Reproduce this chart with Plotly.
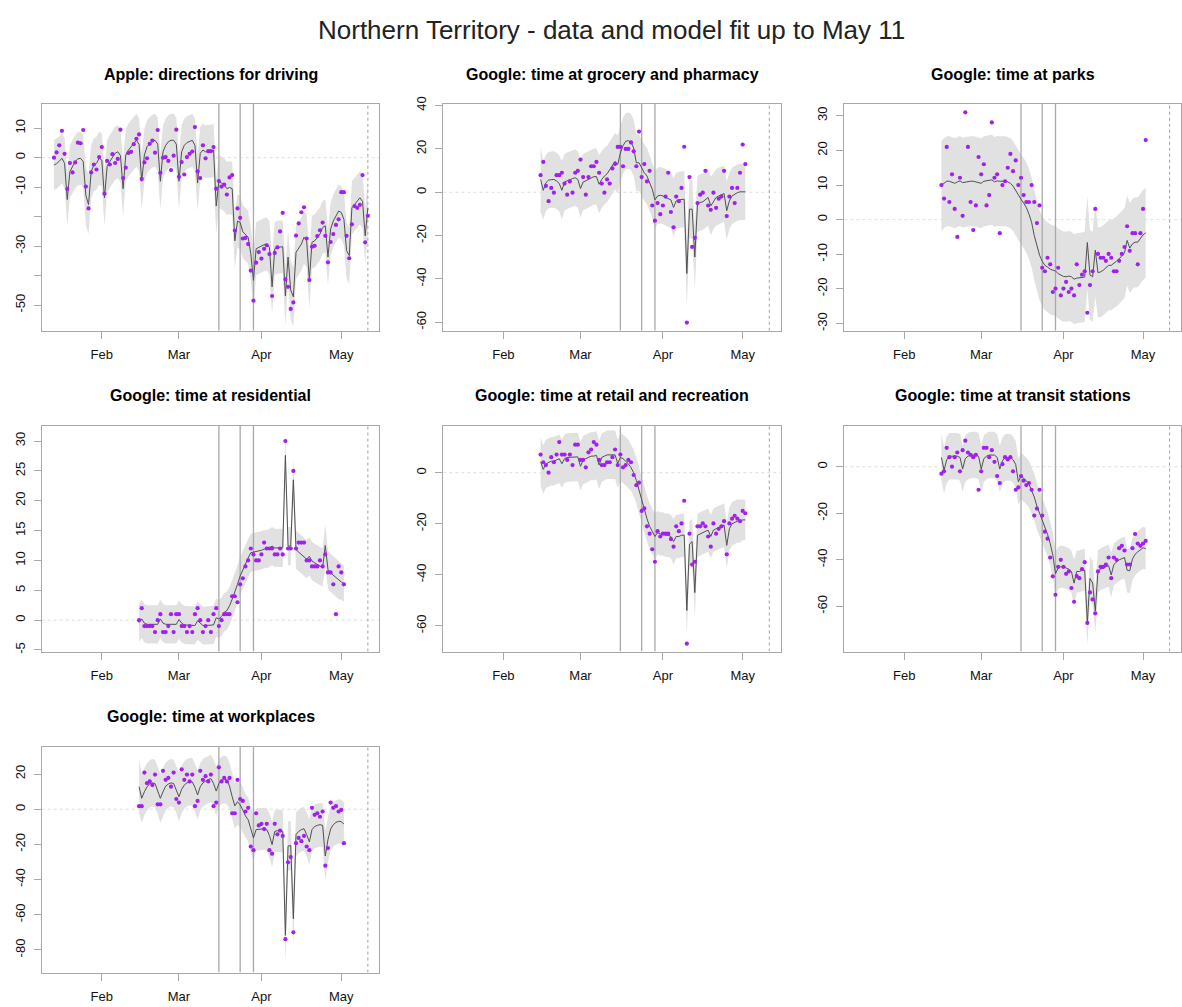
import plotly.graph_objects as go
import pandas as pd

W, H = 1182, 1007

# ---------------- data ----------------
apple_start = "2020-01-14"
google_start = "2020-02-15"

apple_obs = [0.0, 1.8, 4.2, 9.1, 1.3, -10.6, -1.8, -5.0, -1.6, 5.1,
             4.9, 9.4, -9.8, -17.2, -5.0, -2.3, -4.0, 0.2, 3.6, -12.2,
             -1.1, -2.3, 1.2, -1.8, -0.4, 9.5, -6.9, -3.4, 1.6, 2.0,
             4.6, 6.4, 7.9, -7.2, -1.6, -0.2, 4.7, 5.8, 1.7, 9.4,
             -5.1, 0.0, 0.2, -1.1, -4.2, 0.7, 9.5, -6.5, -1.5, -5.7,
             0.2, 1.3, 2.1, 10.4, -4.6, -6.9, 4.2, -0.2, 2.2, 2.2,
             3.6, -10.5, -7.9, -9.8, -9.1, -12.5, -6.7, -5.9, -24.7, -17.2,
             -20.4, -27.4, -27.2, -29.3, -38.3, -48.5, -35.6, -32.0, -34.2, -30.9,
             -29.7, -32.7, -46.9, -32.3, -30.4, -25.0, -18.7, -41.3, -43.8, -51.3,
             -49.1, -26.4, -22.3, -18.5, -16.8, -27.4, -41.5, -30.2, -29.9, -26.6,
             -24.6, -22.0, -26.5, -35.5, -28.6, -25.9, -22.8, -20.9, -11.7, -11.7,
             -26.5, -34.1, -22.6, -16.4, -17.0, -16.0, -5.9, -28.7, -19.7]
apple_fit = [-2.5, -2.0, -1.2, -0.2, -1.9, -14.2, -4.7, -2.7, -1.3, -0.4,
             -0.2, -1.3, -12.8, -15.9, -4.7, -2.5, -1.9, -0.2, -0.8, -13.6,
             -3.0, -1.3, 0.3, 1.5, 2.0, 0.7, -10.5, 0.9, 2.6, 3.7,
             4.8, 5.9, 4.5, -8.0, 0.9, 3.7, 4.8, 5.6, 5.9, 4.6,
             -8.0, 2.0, 4.2, 5.4, 5.9, 5.9, 4.6, -8.0, 2.0, 4.2,
             5.1, 5.6, 5.9, 4.2, -8.6, 1.5, 2.6, 2.0, 2.0, 2.2,
             2.6, -16.4, -8.0, -8.7, -9.2, -10.5, -10.1, -10.5, -28.2, -21.5,
             -22.0, -25.1, -25.9, -27.0, -32.6, -41.6, -30.9, -30.4, -29.8, -29.5,
             -29.3, -30.4, -43.8, -30.9, -30.4, -30.2, -30.2, -46.9, -33.7, -44.9,
             -47.2, -32.1, -30.9, -29.3, -27.0, -28.2, -41.6, -28.7, -28.2, -27.0,
             -25.9, -23.7, -23.1, -33.7, -24.2, -21.5, -19.8, -18.1, -18.6, -20.9,
             -31.5, -33.2, -17.0, -15.9, -14.8, -13.6, -14.8, -26.5, -17.0]
apple_hw = [8.5, 8.5, 8.5, 8.5, 8.5, 9, 9, 9, 9, 9,
            9, 9, 10, 10, 9, 9, 9, 9, 9, 9.5,
            9, 9, 9, 9, 9, 9, 9.5, 9, 9, 9,
            9, 9, 9, 9.5, 9, 9, 9, 9, 9, 9,
            9.5, 9, 9, 9, 9, 9, 9, 9.5, 9, 9,
            9, 9, 9, 9, 9.5, 9, 9, 9, 9, 9,
            9, 9.5, 9, 9, 9, 9, 9, 9, 9.5, 9,
            9, 9, 9, 9, 9, 10, 9, 9, 9, 9,
            9, 9, 9.5, 9, 9, 9, 9, 10, 9, 10,
            10, 9, 9, 9, 9, 9, 9.5, 9, 9, 9,
            9, 9, 9, 9.5, 9, 9, 9, 9, 9, 9,
            9.5, 9.5, 9, 9, 9, 9, 9, 9.5, 9]

groc_obs = [7.9, 14.0, 2.9, -4.1, 2.0, -0.2, 7.9, 7.9, 9.0, 4.0,
            -1.1, 5.0, -0.2, 9.0, 9.9, 15.1, 7.0, -1.1, 7.0, 12.0,
            12.0, 14.0, 9.0, 4.0, -0.2, 5.9, 4.0, 11.0, 13.0, 20.9,
            20.9, 12.0, 20.0, 20.0, 23.0, 18.9, 12.0, 28.0, 7.0, 13.0,
            5.0, 9.9, -6.1, -13.1, -5.0, -10.1, -6.1, -2.0, 9.0, -9.1,
            -16.2, -2.0, -4.1, 2.0, 21.0, -60.1, 7.0, -25.2, -21.0, -5.0,
            -1.1, -0.2, 9.9, -6.1, -8.1, -0.2, -7.2, -3.0, -2.0, 9.9,
            -11.0, -2.0, 2.0, -5.0, 2.0, 9.0, 22.0, 13.0]
groc_fit = [5.9, 0.9, 4.4, 5.6, 5.8, 5.9, 5.2, 4.1, 0.9, 4.7,
            5.3, 5.9, 6.3, 6.7, 5.9, 1.7, 4.7, 5.3, 5.9, 6.6,
            7.2, 7.2, 3.7, 5.9, 7.5, 8.5, 10.5, 12.0, 14.3, 12.8,
            18.1, 21.5, 23.5, 23.8, 23.2, 20.4, 13.6, 13.6, 11.3, 9.0,
            7.5, 4.1, 1.4, -3.5, -1.7, -1.4, -1.7, -2.4, -2.9, -3.5,
            -7.0, -4.0, -3.5, -3.2, -3.2, -37.5, -7.8, -7.8, -29.9, -5.5,
            -4.7, -4.4, -3.2, -2.4, -6.3, -4.0, -2.4, -1.7, -1.1, -0.6,
            -8.5, -4.0, -1.7, -0.9, -0.2, 0.2, 0.3, 0.2]
groc_hw = [15, 13.5, 13, 13, 13, 13, 13, 13, 13.5, 13,
           13, 13, 13, 13, 13, 13.5, 13, 13, 13, 13,
           13, 13, 13.5, 13, 13, 13, 13, 13, 13, 13.5,
           13, 13, 13, 13, 13, 13, 13, 13, 13, 13,
           13, 13, 13, 13.5, 13, 13, 13, 13, 13, 13,
           13.5, 13, 13, 13, 13, 15, 13.5, 13.5, 14.5, 13,
           13, 13, 13, 13, 13.5, 13, 13, 13, 13, 13,
           13.5, 13, 13, 13, 13, 13, 13, 13]

parks_obs = [10.0, 6.1, 21.0, 5.1, 13.1, 3.1, -5.0, 12.1, 1.1, 31.0,
             21.0, 5.1, -3.0, 4.1, 18.1, 13.1, 16.0, 4.1, 7.1, 28.1,
             12.1, 13.1, -3.9, 10.0, 11.1, 15.0, 19.0, 14.0, 17.1, 10.0,
             12.1, 7.1, 5.1, 5.1, 10.0, 5.1, -1.0, 4.1, -13.9, -14.9,
             -11.0, -12.9, -20.9, -19.9, -13.9, -21.9, -19.9, -18.0, -20.9, -19.9,
             -21.9, -12.9, -18.9, -15.9, -14.9, -26.9, -18.9, -14.9, 3.1, -9.9,
             -11.0, -11.0, -11.9, -9.9, -11.0, -14.9, -14.9, -11.9, -9.9, -7.9,
             -1.9, -9.0, -3.9, -3.9, -12.9, -3.9, 3.1, 23.0]
parks_fit = [9.9, 10.5, 11.1, 11.1, 10.9, 10.5, 10.9, 11.2, 10.7, 10.9,
             11.1, 11.1, 11.1, 10.9, 10.7, 10.5, 11.1, 11.3, 11.3, 11.5,
             10.9, 11.2, 11.1, 11.2, 11.1, 10.9, 10.5, 9.7, 8.3, 6.9,
             5.9, 4.8, 3.5, 1.6, -0.8, -4.6, -7.9, -10.3, -12.0, -13.2,
             -13.7, -14.3, -14.6, -14.8, -15.6, -16.0, -16.4, -16.5, -16.3, -16.5,
             -17.2, -16.9, -16.8, -16.8, -16.6, -6.6, -16.0, -16.5, -8.8, -15.3,
             -15.1, -14.6, -13.9, -13.2, -13.2, -12.7, -12.0, -11.3, -10.3, -9.6,
             -6.0, -8.2, -7.0, -6.5, -6.5, -5.3, -4.4, -3.8]
parks_hw = [13, 13, 13, 13, 13, 13, 13, 13, 13, 13,
            13, 13, 13, 13, 13, 13, 13, 13, 13, 13,
            13, 13, 13, 13, 13, 13, 13, 13, 13, 13,
            13, 13, 13, 13, 13, 13, 13, 13, 13, 13,
            13, 13, 13, 13, 13, 13, 13, 13, 13, 13,
            13, 13, 13, 13, 13, 13.5, 13, 13, 13.5, 13,
            13, 13, 13, 13, 13, 13, 13, 13, 13, 13,
            13, 13, 13, 13, 13, 13, 13, 13]

resid_obs = [0, 2, -1, -1, -1, -1, -2, 0, 1, -2,
             -2, -1, 1, -2, 1, 1, -1, -1, -2, -1,
             -2, 1, 2, 0, -2, -1, 0, -2, 1, 2,
             -1, 0, 1, 1, 1, 4, 4, 3, 6, 7,
             9, 10, 12, 11, 10, 10, 11, 13, 12, 12,
             12, 11, 11, 12, 11, 30, 12, 12, 25, 12,
             13, 13, 13, 10, 10, 9, 9, 9, 10, 9,
             11, 8, 8, 6, 1, 9, 8, 6]
resid_fit = [-0.4, 0.2, -0.5, -0.7, -0.7, -0.7, -0.7, -0.7, 0.2, -0.5,
             -0.7, -0.7, -0.7, -0.7, -0.7, 0.1, -0.5, -0.8, -0.8, -0.9,
             -0.9, -0.9, -0.1, -0.5, -0.9, -0.9, -0.9, -0.8, -0.8, 0.4,
             0.2, 0.6, 1.3, 1.6, 2.4, 3.5, 4.6, 6.0, 7.4, 8.5,
             9.3, 10.4, 11.3, 11.4, 11.4, 11.5, 11.7, 11.9, 11.9, 12.1,
             12.4, 12.1, 12.1, 12.2, 12.1, 27.6, 12.4, 12.4, 23.5, 11.8,
             11.4, 11.0, 10.7, 10.2, 10.7, 9.9, 9.6, 9.3, 9.0, 8.8,
             12.5, 8.5, 7.9, 7.5, 7.1, 6.7, 6.4, 6.1]
resid_hw = [3.2, 3.2, 3.2, 3.2, 3.2, 3.2, 3.2, 3.2, 3.2, 3.2,
            3.2, 3.2, 3.2, 3.2, 3.2, 3.2, 3.2, 3.2, 3.2, 3.2,
            3.2, 3.2, 3.2, 3.2, 3.2, 3.2, 3.2, 3.2, 3.2, 3.2,
            3.2, 3.2, 3.2, 3.2, 3.2, 3.2, 3.2, 3.2, 3.2, 3.2,
            3.2, 3.2, 3.2, 3.2, 3.2, 3.2, 3.2, 3.2, 3.2, 3.2,
            3.2, 3.2, 3.2, 3.2, 3.2, 3.6, 3.2, 3.2, 3.5, 3.2,
            3.2, 3.2, 3.2, 3.2, 3.2, 3.2, 3.2, 3.2, 3.2, 3.2,
            3.5, 3.2, 3.2, 3.2, 3.2, 3.2, 3.0, 3.0]

retail_obs = [7.1, 4.1, 3.0, 0.0, 6.1, 4.1, 7.1, 12.0, 7.1, 7.1,
              5.0, 7.1, 3.0, 11.0, 11.0, 5.0, 5.0, 2.1, 8.0, 9.1,
              12.0, 11.0, 5.0, 3.0, 3.0, 4.1, 4.1, 6.1, 9.1, 3.0,
              7.1, 2.1, 3.0, 5.0, 4.1, -0.9, -4.9, -3.9, -15.0, -14.0,
              -21.0, -23.9, -30.0, -34.9, -22.9, -25.0, -23.9, -23.9, -23.9, -26.0,
              -29.0, -21.0, -22.9, -19.9, -11.0, -67.0, -23.9, -36.0, -34.9, -21.0,
              -21.0, -19.9, -21.0, -25.0, -29.0, -19.9, -23.9, -22.0, -21.0, -19.0,
              -32.0, -19.9, -18.0, -16.9, -18.0, -19.0, -15.0, -15.9]
retail_fit = [4.3, 1.3, 3.5, 4.0, 4.5, 4.5, 5.0, 5.5, 3.5, 5.5,
              6.0, 6.0, 6.0, 6.2, 6.2, 2.5, 5.0, 5.5, 6.0, 6.5,
              6.5, 6.8, 3.0, 6.0, 6.5, 7.0, 7.0, 7.0, 7.0, 3.6,
              6.0, 5.5, 4.5, 3.5, 2.0, 0.0, -3.0, -7.0, -11.0, -15.0,
              -18.0, -21.0, -23.0, -25.0, -23.5, -24.0, -24.0, -24.5, -24.5, -25.0,
              -27.0, -25.0, -25.0, -24.5, -24.5, -54.0, -28.0, -27.0, -47.0, -24.5,
              -24.0, -23.5, -23.0, -22.5, -25.0, -22.5, -22.0, -21.5, -21.0, -20.5,
              -28.5, -22.0, -20.0, -19.5, -19.0, -19.0, -18.5, -18.5]
retail_hw = [9.5, 9.5, 9.5, 9.5, 9.5, 9.5, 9.5, 9.5, 9.5, 9.5,
             9.5, 9.5, 9.5, 9.5, 9.5, 9.5, 9.5, 9.5, 9.5, 9.5,
             9.5, 9.5, 9.5, 9.5, 9.5, 9.5, 9.5, 9.5, 9.5, 9.5,
             9.5, 9.5, 9.5, 9.5, 9, 9, 9, 9, 9, 9,
             9, 9, 9, 9, 8.5, 8.5, 8.5, 8.5, 8.5, 8.5,
             9, 8.5, 8.5, 8.5, 8.5, 9.5, 9, 9, 9.5, 8.5,
             8.5, 8.5, 8.5, 8.5, 8.5, 8.5, 8.5, 8.5, 8.5, 8.5,
             9, 8.5, 8.5, 8.5, 8.5, 8.5, 8, 8]

transit_obs = [-3.0, -2.0, 8.1, 4.1, 0.0, 4.1, 6.1, -2.0, 7.1, 11.2,
               6.1, 5.1, 4.1, 5.1, -9.9, -2.0, 8.1, 8.1, 4.1, 7.1,
               2.1, -4.0, -7.0, 1.1, 4.1, 3.1, 4.1, -2.0, -9.9, -8.9,
               -4.0, -6.0, -7.9, -7.0, -9.9, -21.0, -18.0, -9.9, -21.0, -27.9,
               -30.9, -39.0, -47.1, -55.0, -43.0, -40.0, -43.0, -46.0, -45.0, -52.1,
               -58.0, -47.0, -47.9, -44.0, -41.0, -67.1, -54.0, -57.0, -63.0, -45.0,
               -43.0, -43.0, -42.0, -39.0, -47.9, -39.0, -40.0, -35.0, -34.0, -36.0,
               -42.0, -42.0, -35.0, -28.9, -33.0, -34.0, -33.0, -31.9]
transit_fit = [4.0, -1.5, 3.0, 4.5, 4.5, 4.5, 4.5, 4.0, -1.0, 3.5,
               4.5, 5.0, 5.0, 5.0, 4.5, -1.0, 3.5, 4.5, 5.0, 5.0,
               5.0, 4.0, -1.0, 2.5, 4.0, 4.0, 4.0, 3.0, 1.0, -6.5,
               -4.0, -5.0, -6.0, -7.5, -10.0, -13.0, -17.0, -20.0, -23.0, -26.0,
               -29.0, -33.0, -38.0, -46.0, -43.5, -43.0, -43.0, -43.5, -44.0, -45.0,
               -50.0, -45.0, -45.0, -44.5, -44.5, -67.0, -48.0, -50.0, -62.0, -45.0,
               -44.0, -43.5, -43.0, -42.5, -46.5, -42.0, -41.0, -40.0, -39.5, -39.0,
               -44.5, -44.7, -39.7, -37.6, -36.6, -35.7, -34.8, -35.2]
transit_hw = [10, 10, 10, 10, 10, 10, 10, 10, 10, 10,
              10, 10, 10, 10, 10, 10, 10, 10, 10, 10,
              10, 10, 10, 10, 10, 10, 10, 10, 10, 10,
              10, 10, 10, 10, 10, 10, 10, 10, 10, 10,
              9.5, 9.5, 9.5, 9.5, 9, 9, 9, 9, 9, 9,
              10, 9, 9, 9, 9, 9.5, 9.5, 9.5, 9.5, 9,
              9, 9, 9, 9, 9.5, 9, 9, 9, 9, 9,
              9.5, 9.5, 9, 9, 9, 9, 9, 9]

work_obs = [1.7, 1.7, 20.8, 14.8, 15.8, 13.7, 19.7, 2.8, 2.8, 21.8,
            16.7, 17.8, 12.8, 20.8, 5.8, 3.8, 22.7, 16.7, 19.7, 15.8,
            19.7, 1.7, 4.7, 21.8, 16.7, 18.8, 15.8, 19.7, 1.7, 3.8,
            23.8, 15.8, 17.8, 15.8, 17.8, -2.3, -2.3, 16.7, 5.8, 4.7,
            -1.3, 0.8, -21.2, -23.3, -2.3, -9.2, -8.3, -11.3, -8.3, -23.3,
            -25.3, -8.3, -14.3, -12.2, -15.2, -73.9, -30.2, -27.2, -70.0, -19.3,
            -16.3, -18.2, -15.2, -21.2, -23.3, 0.8, -3.2, -2.3, -4.3, -1.3,
            -32.1, -22.1, 3.8, 0.8, 1.7, -1.3, -0.4, -19.3]
work_fit = [12.8, 6.2, 9.9, 12.8, 14.3, 15.0, 14.6, 10.9, 6.2, 9.9,
            13.1, 14.3, 15.0, 14.6, 11.3, 7.1, 11.3, 13.7, 15.0, 15.6,
            15.6, 12.4, 8.1, 12.8, 15.0, 16.1, 16.9, 17.4, 14.6, 10.3,
            14.6, 16.5, 16.9, 16.5, 13.1, 7.1, 1.9, 4.3, 2.4, -0.4,
            -3.8, -6.0, -11.6, -16.3, -11.6, -11.3, -11.1, -11.1, -11.6, -15.0,
            -20.1, -12.6, -12.2, -12.2, -12.6, -71.7, -21.0, -20.6, -62.3, -14.4,
            -12.6, -11.6, -11.1, -14.4, -18.6, -11.6, -9.8, -9.2, -8.8, -9.2,
            -26.6, -17.3, -11.3, -8.8, -7.5, -6.9, -7.1, -8.4]
work_hw = [15, 14, 13.5, 13.5, 13.5, 13.5, 13.5, 13.5, 14, 13.5,
           13.5, 13.5, 13.5, 13.5, 13.5, 14, 13.5, 13.5, 13.5, 13.5,
           13.5, 13.5, 14, 13.5, 13.5, 13.5, 13.5, 13.5, 13.5, 14,
           13.5, 13.5, 13.5, 13.5, 13, 13, 13, 13, 13, 13,
           12.5, 12.5, 13, 13, 12, 12, 12, 12, 12, 12.5,
           13, 12, 12, 12, 12, 16, 14, 14, 15, 12.5,
           12.5, 12.5, 12.5, 12.5, 13, 12.5, 12.5, 12.5, 12.5, 12.5,
           14, 13, 12.5, 12.5, 12.5, 12.5, 12.5, 12.5]

titles = ["Apple: directions for driving",
          "Google: time at grocery and pharmacy",
          "Google: time at parks",
          "Google: time at residential",
          "Google: time at retail and recreation",
          "Google: time at transit stations",
          "Google: time at workplaces"]
main_title = "Northern Territory - data and model fit up to May 11"

month_ticks = ["2020-02-01", "2020-03-01", "2020-04-01", "2020-05-01"]
month_labels = ["Feb", "Mar", "Apr", "May"]
event_dates = ["2020-03-16", "2020-03-24", "2020-03-29"]
fit_end_date = "2020-05-11"

y_ticks = [
    ([10, 0, -10, -20, -30, -40, -50], ["10", "0", "-10", "", "-30", "", "-50"]),
    ([40, 20, 0, -20, -40, -60], ["40", "20", "0", "-20", "-40", "-60"]),
    ([30, 20, 10, 0, -10, -20, -30], ["30", "20", "10", "0", "-10", "-20", "-30"]),
    ([30, 25, 20, 15, 10, 5, 0, -5], ["30", "25", "20", "15", "10", "5", "0", "-5"]),
    ([0, -20, -40, -60], ["0", "-20", "-40", "-60"]),
    ([0, -20, -40, -60], ["0", "-20", "-40", "-60"]),
    ([20, 0, -20, -40, -60, -80], ["20", "0", "-20", "-40", "-60", "-80"]),
]

# ---------------- layout geometry (pixels) ----------------
y_ranges = [(-58.7, 18.2), (-63.9, 40.7), (-32.1, 33.4), (-5.26, 32.6),
            (-70.1, 18.5), (-79.4, 17.7), (-92.9, 35.6)]
x_range = ["2020-01-09 09:36", "2020-05-15 07:12"]
cols = [(41.7, 379.3), (443.3, 780.7), (844.3, 1181.0)]
rows = [(97.0, 326.0), (421.7, 650.0), (746.0, 974.3)]
title_y = [67, 391, 716]

apple_dates = pd.date_range(apple_start, periods=len(apple_obs))
google_dates = pd.date_range(google_start, periods=len(groc_obs))

series = [
    (apple_dates, apple_obs, apple_fit, apple_hw),
    (google_dates, groc_obs, groc_fit, groc_hw),
    (google_dates, parks_obs, parks_fit, parks_hw),
    (google_dates, resid_obs, resid_fit, resid_hw),
    (google_dates, retail_obs, retail_fit, retail_hw),
    (google_dates, transit_obs, transit_fit, transit_hw),
    (google_dates, work_obs, work_fit, work_hw),
]

FONT = "Liberation Sans, Arial, Helvetica, sans-serif"
BAND = "#E1E1E1"
FIT = "#505050"
PTS = "#A020F0"
VLINE = "#A9A9A9"
BOX = "#A8A8A8"

fig = go.Figure()
annotations = []
layout_axes = {}

for i, (dates, obs, fit, hw) in enumerate(series):
    k = i + 1
    xa, ya = f"x{k}", f"y{k}"
    r, c = divmod(i, 3)
    x0, x1 = cols[c]
    y0, y1 = rows[r]
    ymin, ymax = y_ranges[i]
    lo = [f - h for f, h in zip(fit, hw)]
    hi = [f + h for f, h in zip(fit, hw)]

    fig.add_trace(go.Scatter(x=dates, y=lo, mode="lines", line=dict(width=0, color=BAND),
                             hoverinfo="skip", showlegend=False, xaxis=xa, yaxis=ya))
    fig.add_trace(go.Scatter(x=dates, y=hi, mode="lines", line=dict(width=0, color=BAND),
                             fill="tonexty", fillcolor=BAND,
                             hoverinfo="skip", showlegend=False, xaxis=xa, yaxis=ya))
    # zero reference line
    fig.add_trace(go.Scatter(x=x_range, y=[0, 0], mode="lines",
                             line=dict(color="#DEDEDE", width=1, dash="dot"),
                             hoverinfo="skip", showlegend=False, xaxis=xa, yaxis=ya))
    # intervention dates
    vx, vy = [], []
    for d in event_dates:
        vx += [d, d, None]
        vy += [ymin, ymax, None]
    fig.add_trace(go.Scatter(x=vx, y=vy, mode="lines", line=dict(color=VLINE, width=1.3),
                             hoverinfo="skip", showlegend=False, xaxis=xa, yaxis=ya))
    fig.add_trace(go.Scatter(x=[fit_end_date, fit_end_date], y=[ymin, ymax], mode="lines",
                             line=dict(color="#A0A0A0", width=1, dash="dot"),
                             hoverinfo="skip", showlegend=False, xaxis=xa, yaxis=ya))
    fig.add_trace(go.Scatter(x=dates, y=fit, mode="lines", line=dict(color=FIT, width=1),
                             showlegend=False, xaxis=xa, yaxis=ya))
    fig.add_trace(go.Scatter(x=dates, y=obs, mode="markers",
                             marker=dict(color=PTS, size=4.2, line=dict(width=0)),
                             showlegend=False, xaxis=xa, yaxis=ya))

    tv, tt = y_ticks[i]
    axis_common = dict(showline=True, mirror=True, linecolor=BOX, linewidth=1,
                       ticks="outside", ticklen=7, tickcolor=BOX, tickwidth=1,
                       showgrid=False, zeroline=False,
                       tickfont=dict(family=FONT, size=13, color="#111111"))
    layout_axes[f"xaxis{k}"] = dict(axis_common, type="date", range=x_range,
                                    domain=[x0 / W, x1 / W], anchor=ya,
                                    tickmode="array", tickvals=month_ticks, ticktext=month_labels,
                                    ticklabelstandoff=5)
    layout_axes[f"yaxis{k}"] = dict(axis_common, range=[ymin, ymax],
                                    domain=[1 - y1 / H, 1 - y0 / H], anchor=xa,
                                    tickmode="array", tickvals=tv, ticktext=tt,
                                    tickangle=-90, ticklabelstandoff=4)
    annotations.append(dict(text=f"<b>{titles[i]}</b>", x=(x0 + x1) / 2 / W, y=1 - title_y[r] / H,
                            xref="paper", yref="paper", xanchor="center", yanchor="middle",
                            showarrow=False, font=dict(family=FONT, size=16, color="#000000")))

annotations.append(dict(text=main_title, x=611 / W, y=1 - 22 / H, xref="paper", yref="paper",
                        xanchor="center", yanchor="middle", showarrow=False,
                        font=dict(family=FONT, size=26, color="#222222")))

fig.update_layout(width=W, height=H, margin=dict(l=0, r=0, t=0, b=0),
                  paper_bgcolor="white", plot_bgcolor="white",
                  showlegend=False, annotations=annotations, **layout_axes)

fig.write_html("out.html")
